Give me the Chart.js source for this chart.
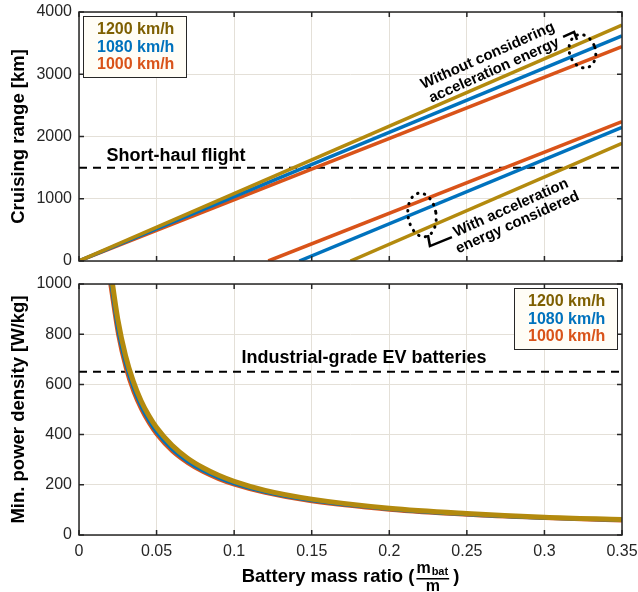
<!DOCTYPE html>
<html lang="en">
<head>
  <meta charset="UTF-8" />
  <title>Cruising range and power density vs battery mass ratio</title>
  <script src="https://cdn.jsdelivr.net/npm/chart.js"></script>
  <style>
    html, body { margin: 0; padding: 0; background: #fff; }
    #wrap { width: 638px; height: 592px; }
    canvas { display: block; }
  </style>
</head>
<body>
  <div id="wrap">
    <canvas id="rango" width="638" height="272"></canvas>
    <canvas id="potencia" width="638" height="320"></canvas>
  </div>

  <script>
    const speedLabels = ['1200 km/h', '1080 km/h', '1000 km/h'];
    const lineColors = ['#B38A0E', '#0072BD', '#D95319'];
    const textColors = ['#7E5F00', '#0072BD', '#D95319'];

    const xTicks = [0, 0.05, 0.1, 0.15, 0.2, 0.25, 0.3, 0.35];
    const rangeTicks = [0, 1000, 2000, 3000, 4000];
    const powerTicks = [0, 200, 400, 600, 800, 1000];

    // cruising range [km], without acceleration energy
    const noAccelX = [0, 0.35];
    const noAccel1200 = [0, 3790];
    const noAccel1080 = [0, 3615];
    const noAccel1000 = [0, 3445];

    // cruising range [km], with acceleration energy considered
    const accelX1200 = [0.175, 0.35];
    const accelX1080 = [0.142, 0.35];
    const accelX1000 = [0.122, 0.35];
    const accel1200 = [0, 1890];
    const accel1080 = [0, 2148];
    const accel1000 = [0, 2238];

    const shortHaul = 1500;   // km
    const evBattery = 650;    // W/kg

    // min. power density [W/kg]
    const powerX = [0.02, 0.025, 0.03, 0.035, 0.04, 0.045, 0.05, 0.06, 0.07, 0.08, 0.09, 0.1, 0.12, 0.15, 0.2, 0.25, 0.3, 0.35];
    const power1200 = [1070, 860, 715, 612, 535, 476, 428, 357, 306, 268, 238, 214, 178, 143, 107, 86, 71, 62];
    const power1080 = [1030, 822, 685, 587, 513, 456, 410, 342, 293, 256, 228, 205, 171, 137, 103, 82, 68, 59];
    const power1000 = [1000, 800, 665, 570, 500, 445, 400, 333, 286, 250, 222, 200, 167, 133, 100, 80, 67, 57];

    const FUENTE = '"Liberation Sans", Arial, Helvetica, sans-serif';
    const TINTA = '#262626';

    function puntos(xs, ys) {
      return xs.map((x, i) => ({ x: x, y: ys[i] }));
    }

    function serie(xs, ys, color, ancho) {
      return { data: puntos(xs, ys), borderColor: color, borderWidth: ancho, pointRadius: 0, fill: false, cubicInterpolationMode: 'monotone' };
    }

    function horizontal(valor) {
      return { data: puntos(noAccelX, [valor, valor]), borderColor: '#000', borderWidth: 2, borderDash: [8, 6], pointRadius: 0 };
    }

    function opciones(yMax, yTicks, conEjeX) {
      return {
        responsive: false,
        animation: false,
        layout: { padding: { left: 0, right: 16, top: 12, bottom: conEjeX ? 0 : 11 } },
        plugins: { legend: { display: false }, tooltip: { enabled: false } },
        scales: {
          x: {
            type: 'linear', min: 0, max: 0.35,
            afterBuildTicks: s => { s.ticks = xTicks.map(v => ({ value: v })); },
            afterFit: s => { s.height = conEjeX ? 57 : 0; s.paddingLeft = 0; s.paddingRight = 0; },
            grid: { color: '#E4E0D8', drawTicks: false },
            border: { display: false },
            ticks: { display: conEjeX, padding: 7, color: TINTA, maxRotation: 0, font: { family: FUENTE, size: 16 },
              callback: v => String(+v.toFixed(2)) }
          },
          y: {
            min: 0, max: yMax,
            afterBuildTicks: s => { s.ticks = yTicks.map(v => ({ value: v })); },
            afterFit: s => { s.width = 79; s.paddingTop = 0; s.paddingBottom = 0; },
            grid: { color: '#E4E0D8', drawTicks: false },
            border: { display: false },
            ticks: { padding: 7, color: TINTA, font: { family: FUENTE, size: 16 }, callback: v => String(v) }
          }
        }
      };
    }

    // marco negro con marcas hacia dentro, como en MATLAB
    const marco = {
      id: 'marco',
      afterDatasetsDraw(chart) {
        const { ctx, chartArea: a, scales: { x, y } } = chart;
        ctx.save();
        ctx.strokeStyle = TINTA;
        ctx.lineWidth = 1.5;
        ctx.beginPath();
        x.ticks.forEach(t => {
          const px = x.getPixelForValue(t.value);
          ctx.moveTo(px, a.bottom); ctx.lineTo(px, a.bottom - 5);
          ctx.moveTo(px, a.top); ctx.lineTo(px, a.top + 5);
        });
        y.ticks.forEach(t => {
          const py = y.getPixelForValue(t.value);
          ctx.moveTo(a.left, py); ctx.lineTo(a.left + 5, py);
          ctx.moveTo(a.right, py); ctx.lineTo(a.right - 5, py);
        });
        ctx.stroke();
        ctx.strokeRect(a.left, a.top, a.width, a.height);
        ctx.restore();
      }
    };

    function leyenda(ctx, left, top) {
      ctx.save();
      ctx.fillStyle = '#FFFDF6';
      ctx.fillRect(left, top, 103, 61);
      ctx.strokeStyle = TINTA;
      ctx.lineWidth = 1;
      ctx.strokeRect(left + 0.5, top + 0.5, 103, 61);
      ctx.font = 'bold 16px ' + FUENTE;
      ctx.textBaseline = 'middle';
      speedLabels.forEach((txt, i) => {
        ctx.fillStyle = textColors[i];
        ctx.fillText(txt, left + 14, top + 14 + i * 17.5);
      });
      ctx.restore();
    }

    function tituloY(ctx, texto, cy) {
      ctx.save();
      ctx.translate(19, cy);
      ctx.rotate(-Math.PI / 2);
      ctx.font = 'bold 18.5px ' + FUENTE;
      ctx.fillStyle = '#000';
      ctx.textAlign = 'center';
      ctx.textBaseline = 'middle';
      ctx.fillText(texto, 0, 0);
      ctx.restore();
    }

    function textoGirado(ctx, lineas, px, py, grados) {
      ctx.save();
      ctx.translate(px, py);
      ctx.rotate(-grados * Math.PI / 180);
      ctx.font = 'bold 15px ' + FUENTE;
      ctx.fillStyle = '#000';
      ctx.textAlign = 'center';
      ctx.textBaseline = 'middle';
      lineas.forEach((l, i) => ctx.fillText(l, 0, (i - (lineas.length - 1) / 2) * 16));
      ctx.restore();
    }

    function elipse(ctx, px, py, rx, ry, giro) {
      ctx.save();
      ctx.strokeStyle = '#000';
      ctx.lineWidth = 3;
      ctx.lineCap = 'round';
      ctx.setLineDash([0.5, 6.5]);
      ctx.beginPath();
      ctx.ellipse(px, py, rx, ry, giro, 0, Math.PI * 2);
      ctx.stroke();
      ctx.restore();
    }

    const notasRango = {
      id: 'notasRango',
      afterDraw(chart) {
        const { ctx, chartArea: a, scales: { x, y } } = chart;
        leyenda(ctx, a.left + 4, a.top + 4);
        tituloY(ctx, 'Cruising range [km]', (a.top + a.bottom) / 2);

        ctx.save();
        ctx.font = 'bold 18px ' + FUENTE;
        ctx.fillStyle = '#000';
        ctx.textAlign = 'center';
        ctx.textBaseline = 'middle';
        ctx.fillText('Short-haul flight', x.getPixelForValue(0.0625), y.getPixelForValue(1690));
        ctx.restore();

        textoGirado(ctx, ['Without considering', 'acceleration energy'], x.getPixelForValue(0.2655), y.getPixelForValue(3180), 24);
        textoGirado(ctx, ['With acceleration', 'energy considered'], x.getPixelForValue(0.2805), y.getPixelForValue(735), 24);

        elipse(ctx, x.getPixelForValue(0.3245), y.getPixelForValue(3370), 13, 17, -0.3);
        elipse(ctx, x.getPixelForValue(0.2211), y.getPixelForValue(740), 14, 22, -0.15);

        // corchetes que unen elipse y texto
        ctx.save();
        ctx.strokeStyle = '#000';
        ctx.lineWidth = 2.5;
        ctx.beginPath();
        const b1x = x.getPixelForValue(0.3191), b1y = y.getPixelForValue(3680);
        ctx.moveTo(b1x - 11, b1y + 5); ctx.lineTo(b1x, b1y); ctx.lineTo(b1x + 3, b1y + 8);
        const b2x = x.getPixelForValue(0.2262), b2y = y.getPixelForValue(240);
        ctx.moveTo(b2x - 2, b2y - 11); ctx.lineTo(b2x, b2y); ctx.lineTo(b2x + 22, b2y - 9);
        ctx.stroke();
        ctx.restore();
      }
    };

    const notasPotencia = {
      id: 'notasPotencia',
      afterDraw(chart) {
        const { ctx, chartArea: a, scales: { x, y } } = chart;
        leyenda(ctx, a.right - 108, a.top + 4);
        tituloY(ctx, 'Min. power density [W/kg]', (a.top + a.bottom) / 2);

        ctx.save();
        ctx.font = 'bold 18px ' + FUENTE;
        ctx.fillStyle = '#000';
        ctx.textAlign = 'center';
        ctx.textBaseline = 'middle';
        ctx.fillText('Industrial-grade EV batteries', x.getPixelForValue(0.1837), y.getPixelForValue(705));

        // titulo del eje x con la fraccion m_bat / m
        const cy = a.bottom + 42;
        ctx.textAlign = 'left';
        ctx.font = 'bold 18.5px ' + FUENTE;
        const parte1 = 'Battery mass ratio (';
        const ancho1 = ctx.measureText(parte1).width;
        ctx.font = 'bold 16px ' + FUENTE;
        const mW = ctx.measureText('m').width;
        ctx.font = 'bold 11px ' + FUENTE;
        const batW = ctx.measureText('bat').width;
        const fracW = mW + batW + 2;
        ctx.font = 'bold 18.5px ' + FUENTE;
        const parenW = ctx.measureText(')').width;
        const total = ancho1 + fracW + 6 + parenW;
        let px = (a.left + a.right) / 2 - total / 2;
        ctx.fillText(parte1, px, cy);
        px += ancho1 + 2;
        ctx.font = 'bold 16px ' + FUENTE;
        ctx.fillText('m', px, cy - 8);
        ctx.font = 'bold 11px ' + FUENTE;
        ctx.fillText('bat', px + mW + 1, cy - 5);
        ctx.font = 'bold 16px ' + FUENTE;
        ctx.textAlign = 'center';
        ctx.fillText('m', px + fracW / 2, cy + 10);
        ctx.fillRect(px, cy + 1, fracW, 1.5);
        ctx.textAlign = 'left';
        ctx.font = 'bold 18.5px ' + FUENTE;
        ctx.fillText(')', px + fracW + 4, cy);
        ctx.restore();
      }
    };

    new Chart(document.getElementById('rango'), {
      type: 'line',
      data: {
        datasets: [
          serie(noAccelX, noAccel1200, lineColors[0], 3.5),
          serie(noAccelX, noAccel1080, lineColors[1], 3.5),
          serie(noAccelX, noAccel1000, lineColors[2], 3.5),
          serie(accelX1200, accel1200, lineColors[0], 3.5),
          serie(accelX1080, accel1080, lineColors[1], 3.5),
          serie(accelX1000, accel1000, lineColors[2], 3.5),
          horizontal(shortHaul)
        ]
      },
      options: opciones(4000, rangeTicks, false),
      plugins: [marco, notasRango]
    });

    new Chart(document.getElementById('potencia'), {
      type: 'line',
      data: {
        datasets: [
          serie(powerX, power1200, lineColors[0], 5),
          serie(powerX, power1080, lineColors[1], 3.5),
          serie(powerX, power1000, lineColors[2], 3.5),
          horizontal(evBattery)
        ]
      },
      options: opciones(1000, powerTicks, true),
      plugins: [marco, notasPotencia]
    });
  </script>
</body>
</html>
